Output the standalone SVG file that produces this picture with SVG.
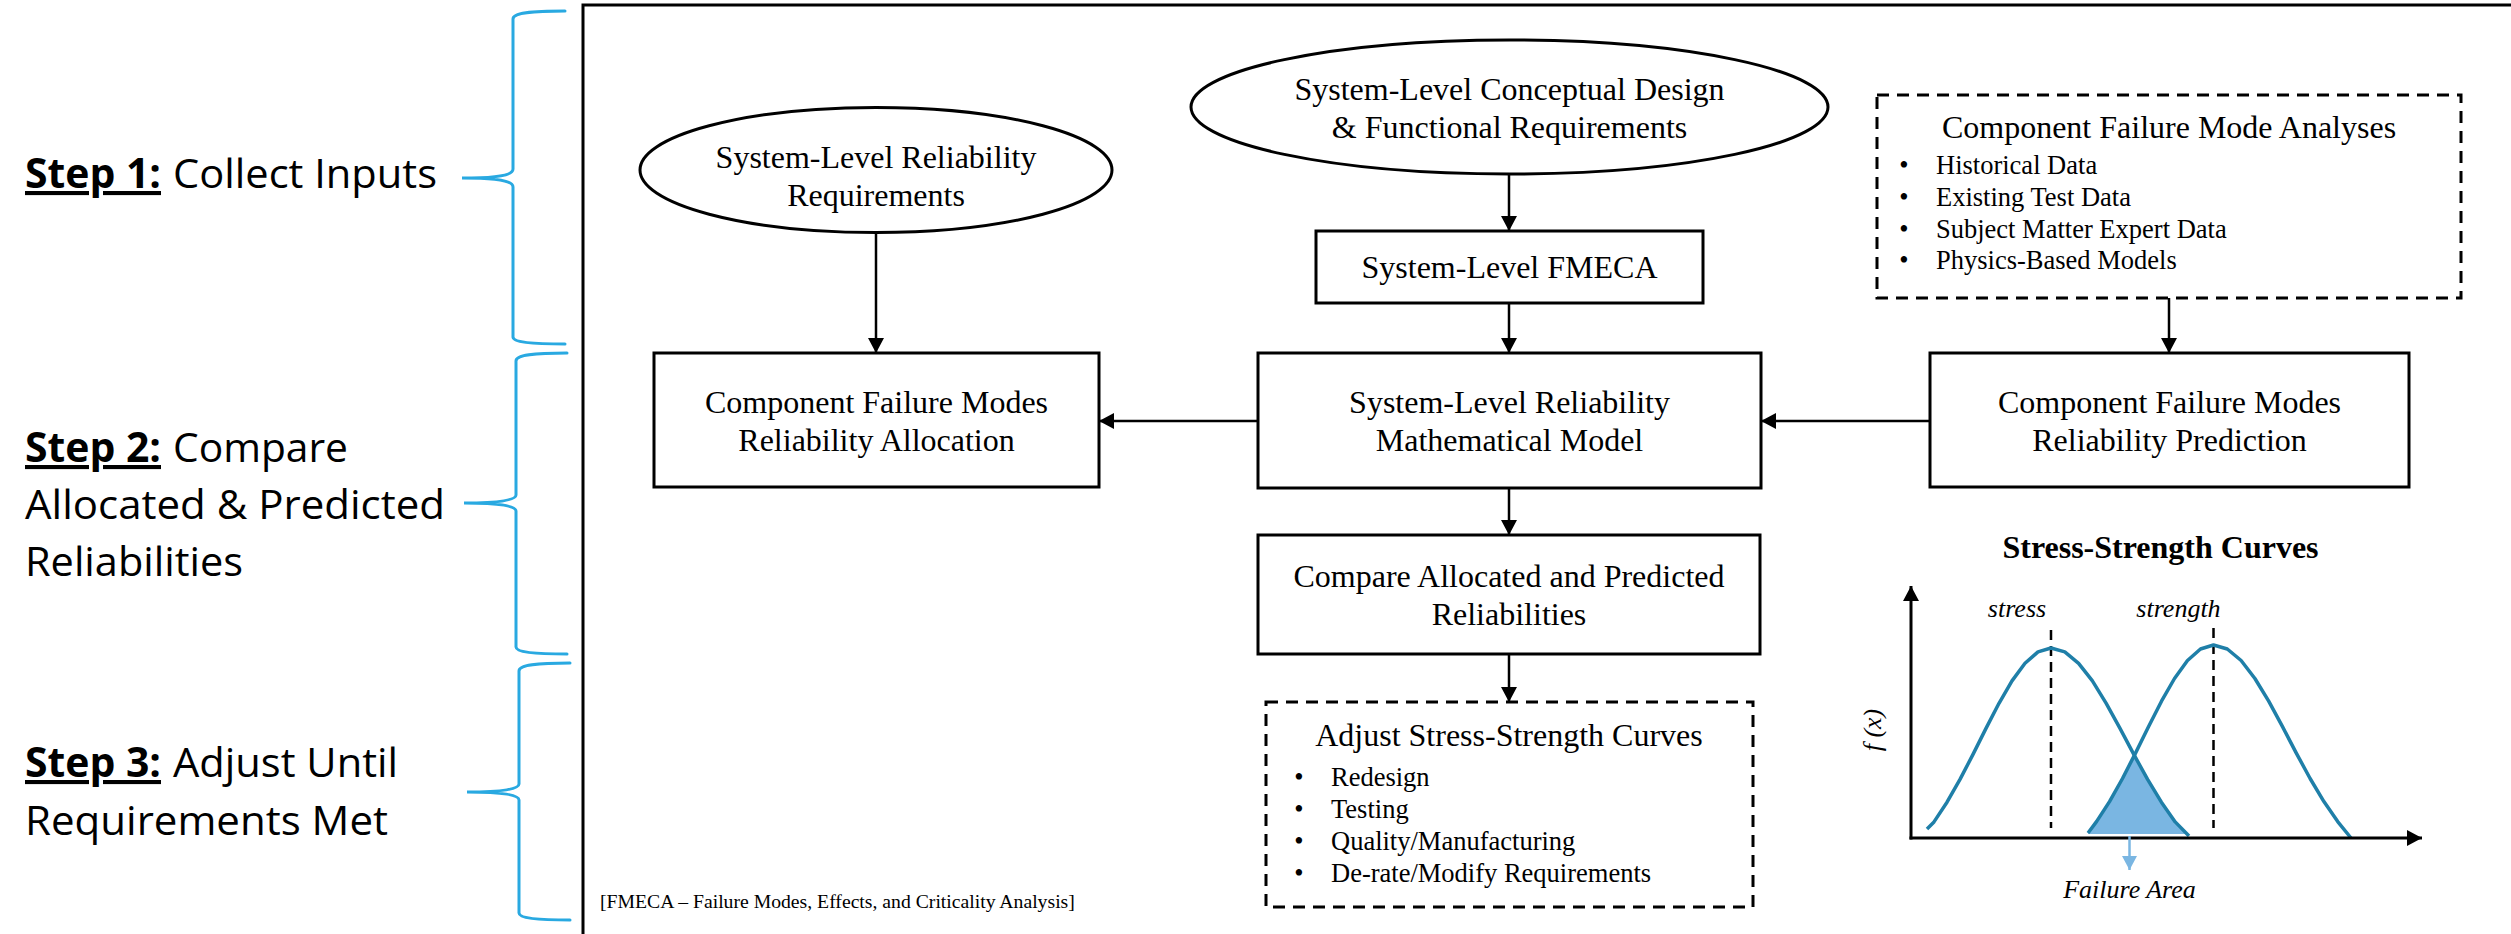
<svg xmlns="http://www.w3.org/2000/svg" width="2511" height="934" viewBox="0 0 2511 934">
<defs>
<style>
.step{font-family:"Open Sans","Noto Sans",sans-serif;font-size:41px;fill:#000}
.stepb{font-weight:bold;text-decoration:underline}
.brace{fill:none;stroke:#29A9E1;stroke-width:3;stroke-linecap:round}
.box{fill:#fff;stroke:#000;stroke-width:3}
.dbox{fill:#fff;stroke:#000;stroke-width:3;stroke-dasharray:12 8}
.t{font-family:"Liberation Serif","Times New Roman",serif;font-size:32px;fill:#000;text-anchor:middle}
.b{font-family:"Liberation Serif","Times New Roman",serif;font-size:26.5px;fill:#000}
.bul{text-anchor:middle}
.conn{stroke:#000;stroke-width:2.5;fill:none}
.curve{fill:none;stroke:#1F7FA8;stroke-width:3.5;stroke-linejoin:round}
.it{font-family:"Liberation Serif","Times New Roman",serif;font-style:italic;font-size:26px;fill:#000;text-anchor:middle}
</style>
<marker id="arr" markerUnits="userSpaceOnUse" markerWidth="16" markerHeight="16" refX="15" refY="8" orient="auto"><path d="M0,0 L15,8 L0,16 z" fill="#000"/></marker>
<marker id="arrb" markerUnits="userSpaceOnUse" markerWidth="16" markerHeight="16" refX="14" refY="7.5" orient="auto"><path d="M0,0 L14,7.5 L0,15 z" fill="#7AB6E2"/></marker>
</defs>
<rect width="2511" height="934" fill="#fff"/>

<g id="steps">
<g id="step1">
<text class="step" y="188"><tspan class="stepb" x="25" textLength="136" lengthAdjust="spacingAndGlyphs">Step 1:</tspan></text>
<text class="step" x="173" y="188" textLength="264" lengthAdjust="spacingAndGlyphs">Collect Inputs</text>
</g>
<g id="step2">
<text class="step" y="462"><tspan class="stepb" x="25" textLength="136" lengthAdjust="spacingAndGlyphs">Step 2:</tspan></text>
<text class="step" x="173" y="462" textLength="175" lengthAdjust="spacingAndGlyphs">Compare</text>
<text class="step" x="25" y="519" textLength="420" lengthAdjust="spacingAndGlyphs">Allocated &amp; Predicted</text>
<text class="step" x="25" y="576" textLength="218" lengthAdjust="spacingAndGlyphs">Reliabilities</text>
</g>
<g id="step3">
<text class="step" y="777"><tspan class="stepb" x="25" textLength="136" lengthAdjust="spacingAndGlyphs">Step 3:</tspan></text>
<text class="step" x="173" y="777" textLength="225" lengthAdjust="spacingAndGlyphs">Adjust Until</text>
<text class="step" x="25" y="835" textLength="363" lengthAdjust="spacingAndGlyphs">Requirements Met</text>
</g>
</g>

<g id="braces">
<path class="brace" d="M565,11 C530,11 513,13 513,19 L513,169 C513,175 498,178 462,178 C498,178 513,181 513,187 L513,337 C513,342 530,344 565,344"/>
<path class="brace" d="M567,353 C533,353 516,355 516,361 L516,495 C516,500 501,503 464,503 C501,503 516,506 516,511 L516,647 C516,652 533,654 567,654"/>
<path class="brace" d="M570,663 C536,663 519,665 519,671 L519,784 C519,789 504,792 467,792 C504,792 519,795 519,800 L519,913 C519,918 536,920 570,920"/>
</g>

<rect id="frame" x="583" y="5" width="2000" height="1000" fill="none" stroke="#000" stroke-width="3"/>

<g id="connectors">
<line class="conn" x1="876" y1="232" x2="876" y2="353" marker-end="url(#arr)"/>
<line class="conn" x1="1509" y1="174" x2="1509" y2="231" marker-end="url(#arr)"/>
<line class="conn" x1="1509" y1="303" x2="1509" y2="353" marker-end="url(#arr)"/>
<line class="conn" x1="2169" y1="298" x2="2169" y2="353" marker-end="url(#arr)"/>
<line class="conn" x1="1930" y1="421" x2="1761" y2="421" marker-end="url(#arr)"/>
<line class="conn" x1="1258" y1="421" x2="1099" y2="421" marker-end="url(#arr)"/>
<line class="conn" x1="1509" y1="488" x2="1509" y2="535" marker-end="url(#arr)"/>
<line class="conn" x1="1509" y1="654" x2="1509" y2="702" marker-end="url(#arr)"/>
</g>

<g id="sys-rel-req">
<ellipse class="box" cx="876" cy="170" rx="236" ry="62.5"/>
<text class="t" x="876" y="168">System-Level Reliability</text>
<text class="t" x="876" y="206">Requirements</text>
</g>

<g id="sys-concept">
<ellipse class="box" cx="1509.5" cy="107" rx="318.5" ry="67"/>
<text class="t" x="1509.5" y="100">System-Level Conceptual Design</text>
<text class="t" x="1509.5" y="138">&amp; Functional Requirements</text>
</g>

<g id="comp-fm-analyses">
<rect class="dbox" x="1877" y="95" width="584" height="203"/>
<text class="t" x="2169" y="138">Component Failure Mode Analyses</text>
<text class="b bul" x="1904" y="174">•</text><text class="b" x="1936" y="174">Historical Data</text>
<text class="b bul" x="1904" y="206">•</text><text class="b" x="1936" y="206">Existing Test Data</text>
<text class="b bul" x="1904" y="238">•</text><text class="b" x="1936" y="238">Subject Matter Expert Data</text>
<text class="b bul" x="1904" y="269">•</text><text class="b" x="1936" y="269">Physics-Based Models</text>
</g>

<g id="fmeca">
<rect class="box" x="1316" y="231" width="387" height="72"/>
<text class="t" x="1509.5" y="278">System-Level FMECA</text>
</g>

<g id="allocation">
<rect class="box" x="654" y="353" width="445" height="134"/>
<text class="t" x="876.5" y="413">Component Failure Modes</text>
<text class="t" x="876.5" y="451">Reliability Allocation</text>
</g>

<g id="math-model">
<rect class="box" x="1258" y="353" width="503" height="135"/>
<text class="t" x="1509.5" y="413">System-Level Reliability</text>
<text class="t" x="1509.5" y="451">Mathematical Model</text>
</g>

<g id="prediction">
<rect class="box" x="1930" y="353" width="479" height="134"/>
<text class="t" x="2169.5" y="413">Component Failure Modes</text>
<text class="t" x="2169.5" y="451">Reliability Prediction</text>
</g>

<g id="compare">
<rect class="box" x="1258" y="535" width="502" height="119"/>
<text class="t" x="1509" y="587">Compare Allocated and Predicted</text>
<text class="t" x="1509" y="625">Reliabilities</text>
</g>

<g id="adjust">
<rect class="dbox" x="1266" y="702" width="487" height="205"/>
<text class="t" x="1509" y="746">Adjust Stress-Strength Curves</text>
<text class="b bul" x="1299" y="786">•</text><text class="b" x="1331" y="786">Redesign</text>
<text class="b bul" x="1299" y="818">•</text><text class="b" x="1331" y="818">Testing</text>
<text class="b bul" x="1299" y="850">•</text><text class="b" x="1331" y="850">Quality/Manufacturing</text>
<text class="b bul" x="1299" y="882">•</text><text class="b" x="1331" y="882">De-rate/Modify Requirements</text>
</g>

<g id="footnote">
<text x="600" y="908" font-family="'Liberation Serif','Times New Roman',serif" font-size="19.7" fill="#000">[FMECA – Failure Modes, Effects, and Criticality Analysis]</text>
</g>

<g id="stress-strength">
<text x="2160.5" y="558" font-family="'Liberation Serif','Times New Roman',serif" font-size="32" font-weight="bold" text-anchor="middle" fill="#000">Stress-Strength Curves</text>
<path d="M2088,833 L2096.5,821.6 L2109.5,801.6 L2122.5,778.5 L2135,756 L2147.6,779.4 L2161.4,802.2 L2175.2,821.9 L2189,836 L2189,834 L2088,834 Z" fill="#7AB6E2"/>
<line x1="2051" y1="630" x2="2051" y2="828" stroke="#000" stroke-width="2.5" stroke-dasharray="10 6"/>
<line x1="2213.5" y1="628" x2="2213.5" y2="828" stroke="#000" stroke-width="2.5" stroke-dasharray="10 6"/>
<path class="curve" d="M1927,829 L1934,821.9 L1947,802.2 L1960,779.4 L1973,754.4 L1986,728.4 L1999,703.3 L2012,680.9 L2025,663.3 L2038,651.9 L2051,648 L2064.8,651.9 L2078.6,663.3 L2092.4,680.9 L2106.2,703.3 L2120,728.4 L2133.8,754.4 L2147.6,779.4 L2161.4,802.2 L2175.2,821.9 L2189,836"/>
<path class="curve" d="M2088,833 L2096.5,821.6 L2109.5,801.6 L2122.5,778.5 L2135.5,753.1 L2148.5,726.7 L2161.5,701.2 L2174.5,678.5 L2187.5,660.5 L2200.5,649 L2213.5,645 L2227.3,649 L2241.1,660.5 L2254.9,678.5 L2268.7,701.2 L2282.5,726.7 L2296.3,753.1 L2310.1,778.5 L2323.9,801.6 L2337.7,821.6 L2351,838"/>
<line x1="1911" y1="839.5" x2="1911" y2="586" stroke="#000" stroke-width="3" marker-end="url(#arr)"/>
<line x1="1909.5" y1="838" x2="2422" y2="838" stroke="#000" stroke-width="3" marker-end="url(#arr)"/>
<line x1="2129.5" y1="836" x2="2129.5" y2="870" stroke="#7AB6E2" stroke-width="2.5" marker-end="url(#arrb)"/>
<text class="it" x="2017" y="617">stress</text>
<text class="it" x="2178.5" y="617">strength</text>
<text class="it" x="2129.5" y="898">Failure Area</text>
<text class="it" font-size="27" transform="translate(1881,730) rotate(-90)" x="0" y="0">f (x)</text>
</g>
</svg>
